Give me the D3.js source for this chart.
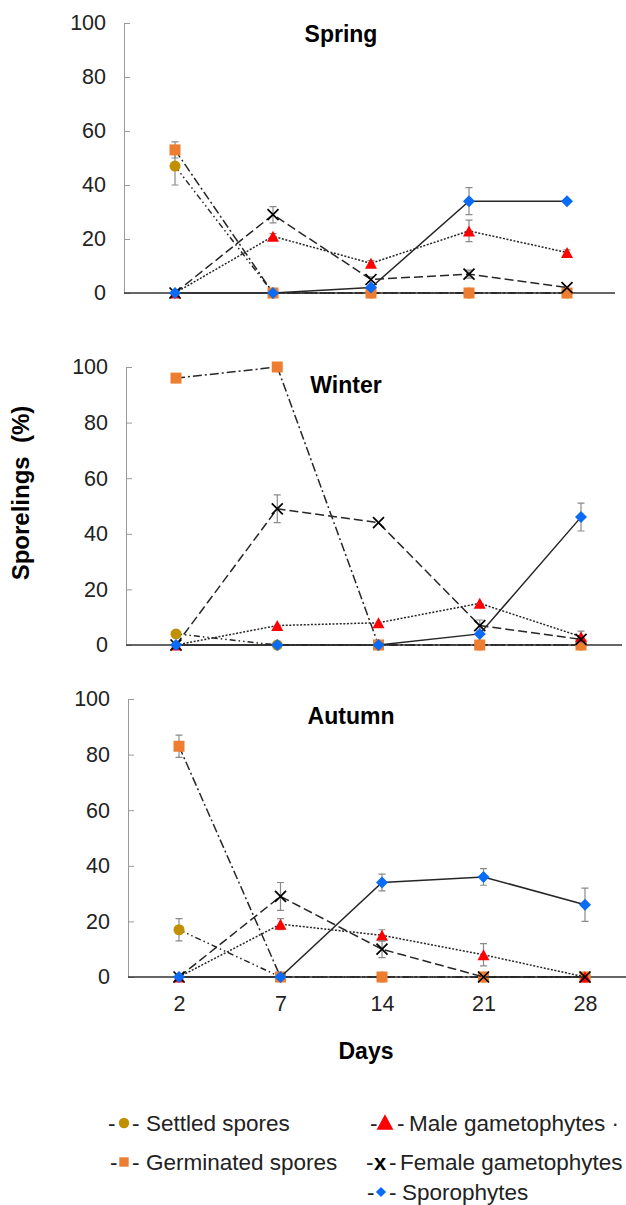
<!DOCTYPE html>
<html><head><meta charset="utf-8">
<script src="https://cdn.jsdelivr.net/npm/d3@7"></script>
<style>
body{margin:0;background:#fff}
text{font-family:"Liberation Sans",Arial,Helvetica,sans-serif}
</style>
</head><body>
<svg id="c" width="626" height="1205"></svg>
<script>
// ---------- data ----------
const days = ["2","7","14","21","28"];
const yTicks = [0,20,40,60,80,100];
const seasons = ["Spring","Winter","Autumn"];
const seriesNames = ["Settled spores","Germinated spores","Male gametophytes","Female gametophytes","Sporophytes"];

const springSettled    = [47, 0, 0, 0, 0];
const springGerminated = [53, 0, 0, 0, 0];
const springMale       = [0, 21, 11, 23, 15];
const springFemale     = [0, 29, 5, 7, 2];
const springSporo      = [0, 0, 2, 34, 34];
const springSettledErr    = [7, 0, 0, 0, 0];
const springGerminatedErr = [3, 0, 0, 0, 0];
const springMaleErr       = [0, 1, 1, 4, 1];
const springFemaleErr     = [0, 3, 1, 1.5, 0];
const springSporoErr      = [0, 0, 0, 5, 0];

const winterSettled    = [4, 0, 0, 0, 0];
const winterGerminated = [96, 100, 0, 0, 0];
const winterMale       = [0, 7, 8, 15, 3];
const winterFemale     = [0, 49, 44, 7, 2];
const winterSporo      = [0, 0, 0, 4, 46];
const winterSettledErr    = [0, 0, 0, 0, 0];
const winterGerminatedErr = [0, 0, 0, 0, 0];
const winterMaleErr       = [0, 0, 0, 0, 2];
const winterFemaleErr     = [0, 5, 0, 2, 0];
const winterSporoErr      = [0, 0, 0, 0, 5];

const autumnSettled    = [17, 0, 0, 0, 0];
const autumnGerminated = [83, 0, 0, 0, 0];
const autumnMale       = [0, 19, 15, 8, 0];
const autumnFemale     = [0, 29, 10, 0, 0];
const autumnSporo      = [0, 0, 34, 36, 26];
const autumnSettledErr    = [4, 0, 0, 0, 0];
const autumnGerminatedErr = [4, 0, 0, 0, 0];
const autumnMaleErr       = [0, 2, 2, 4, 0];
const autumnFemaleErr     = [0, 5, 3, 0, 0];
const autumnSporoErr      = [0, 0, 3, 3, 6];

const seasonValues = [
  [springSettled, springGerminated, springMale, springFemale, springSporo],
  [winterSettled, winterGerminated, winterMale, winterFemale, winterSporo],
  [autumnSettled, autumnGerminated, autumnMale, autumnFemale, autumnSporo]
];
const seasonErrors = [
  [springSettledErr, springGerminatedErr, springMaleErr, springFemaleErr, springSporoErr],
  [winterSettledErr, winterGerminatedErr, winterMaleErr, winterFemaleErr, winterSporoErr],
  [autumnSettledErr, autumnGerminatedErr, autumnMaleErr, autumnFemaleErr, autumnSporoErr]
];

// ---------- styles / layout ----------
const styles = [
  {color:"#BF9000", shape:"circle",   dash:"6,3,1.5,3,1.5,3"},
  {color:"#ED7D31", shape:"square",   dash:"9,3,2,3"},
  {color:"#FF0000", shape:"triangle", dash:"2,1.6"},
  {color:"#000000", shape:"x",        dash:"9,4"},
  {color:"#0A6CF5", shape:"diamond",  dash:null}
];
const panels = [
  {ax:124, xEnd:615, x0:175, x1:567, yTop:23,  yBot:293, tx:341, ty:42},
  {ax:126, xEnd:622, x0:176, x1:581, yTop:367, yBot:645, tx:346, ty:393},
  {ax:128, xEnd:626, x0:179, x1:585, yTop:699, yBot:977, tx:351, ty:724}
];

const svg = d3.select("#c");

function drawMarker(g, shape, color, x, y, scale=1){
  if(shape==="circle"){
    g.append("circle").attr("cx",x).attr("cy",y).attr("r",5.5*scale).attr("fill",color);
  } else if(shape==="square"){
    const s=11*scale;
    g.append("rect").attr("x",x-s/2).attr("y",y-s/2).attr("width",s).attr("height",s).attr("fill",color);
  } else if(shape==="triangle"){
    const w=12*scale, h=11*scale;
    g.append("path").attr("d",`M${x},${y-h/2}L${x+w/2},${y+h/2}L${x-w/2},${y+h/2}Z`).attr("fill",color);
  } else if(shape==="diamond"){
    const r=6*scale;
    g.append("path").attr("d",`M${x},${y-r}L${x+r},${y}L${x},${y+r}L${x-r},${y}Z`).attr("fill",color);
  } else if(shape==="x"){
    const r=5.5*scale;
    g.append("path").attr("d",`M${x-r},${y-r}L${x+r},${y+r}M${x+r},${y-r}L${x-r},${y+r}`)
      .attr("stroke",color).attr("stroke-width",1.7).attr("fill","none");
  }
}

panels.forEach((p, si) => {
  const g = svg.append("g");
  const x = d3.scalePoint().domain(days).range([p.x0, p.x1]);
  const y = d3.scaleLinear().domain([0,100]).range([p.yBot, p.yTop]);

  // y axis
  const ya = g.append("g").attr("transform",`translate(${p.ax},0)`)
    .call(d3.axisLeft(y).tickValues(yTicks).tickSizeInner(-6).tickSizeOuter(0).tickPadding(18));
  ya.select(".domain").attr("stroke","#9a9a9a");
  ya.selectAll(".tick line").attr("stroke","#9a9a9a");
  ya.selectAll("text").attr("font-size",21.5).attr("fill","#222");

  // x axis line
  g.append("line").attr("x1",p.ax).attr("x2",p.xEnd).attr("y1",y(0)).attr("y2",y(0))
    .attr("stroke","#333").attr("stroke-width",1.7);

  if(si===2){
    const xa = g.append("g").attr("transform",`translate(0,${y(0)})`)
      .call(d3.axisBottom(x).tickSize(0).tickPadding(19));
    xa.select(".domain").remove();
    xa.selectAll("text").attr("font-size",21.5).attr("fill","#222");
  }

  // title
  g.append("text").attr("x",p.tx).attr("y",p.ty).attr("text-anchor","middle")
    .attr("font-size",23).attr("font-weight","bold").text(seasons[si]);

  const line = d3.line().x((d,i)=>x(days[i])).y(d=>y(d));
  seasonValues[si].forEach((vals, k) => {
    const st = styles[k];
    g.append("path").datum(vals).attr("d",line).attr("fill","none")
      .attr("stroke","#262626").attr("stroke-width",1.5)
      .attr("stroke-dasharray", st.dash);
    const errs = seasonErrors[si][k];
    vals.forEach((v,i) => {
      const e = errs[i];
      if(e>0){
        const cx = x(days[i]);
        g.append("path")
          .attr("d",`M${cx},${y(v-e)}L${cx},${y(v+e)}M${cx-3.5},${y(v-e)}L${cx+3.5},${y(v-e)}M${cx-3.5},${y(v+e)}L${cx+3.5},${y(v+e)}`)
          .attr("stroke","#8a8a8a").attr("stroke-width",1.2).attr("fill","none");
      }
    });
    vals.forEach((v,i) => drawMarker(g, st.shape, st.color, x(days[i]), y(v)));
  });
});

// axis titles
svg.append("text").attr("transform","translate(29,493) rotate(-90)").attr("text-anchor","middle")
  .attr("font-size",24).attr("font-weight","bold").style("white-space","pre").text("Sporelings  (%)");
svg.append("text").attr("x",366).attr("y",1059).attr("text-anchor","middle")
  .attr("font-size",23).attr("font-weight","bold").text("Days");

// legend
const legendItems = [
  {k:0, dx:108, mx:124, dx2:132, tx:146, y:1123, label:"Settled spores"},
  {k:1, dx:110, mx:124, dx2:132, tx:146, y:1162, label:"Germinated spores"},
  {k:2, dx:370, mx:385, dx2:397, tx:409, y:1123, label:"Male gametophytes ·"},
  {k:3, dx:366, mx:380, dx2:389, tx:400, y:1162, label:"Female gametophytes"},
  {k:4, dx:367, mx:381, dx2:389, tx:402, y:1192, label:"Sporophytes"}
];
const lg = svg.append("g");
legendItems.forEach(it => {
  const st = styles[it.k];
  lg.append("text").attr("x",it.dx).attr("y",it.y+8).attr("font-size",22.5).attr("fill","#222").text("-");
  if(st.shape==="x"){
    lg.append("text").attr("x",it.mx).attr("y",it.y+8).attr("text-anchor","middle")
      .attr("font-size",22).attr("font-weight","bold").text("x");
  } else if(st.shape==="triangle"){
    drawMarker(lg, st.shape, st.color, it.mx, it.y-1, 1.4);
  } else {
    drawMarker(lg, st.shape, st.color, it.mx, it.y, st.shape==="circle"?0.95:0.85);
  }
  lg.append("text").attr("x",it.dx2).attr("y",it.y+8).attr("font-size",22.5).attr("fill","#222").text("-");
  lg.append("text").attr("x",it.tx).attr("y",it.y+8).attr("font-size",22.5).attr("fill","#222").text(it.label);
});
</script>
</body></html>
